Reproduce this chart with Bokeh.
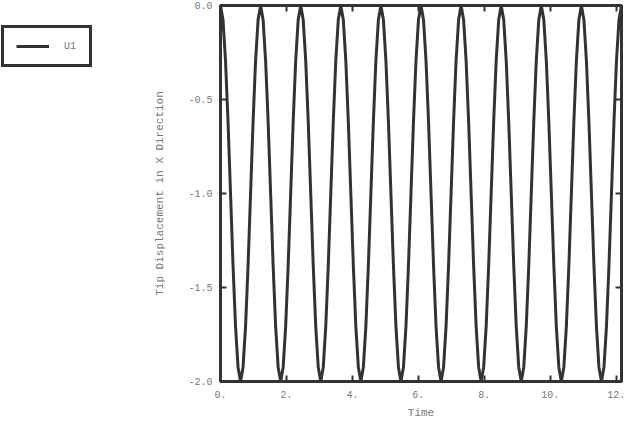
from bokeh.plotting import figure
from bokeh.layouts import row
from bokeh.models import Range1d, FixedTicker, LinearAxis, Legend, LegendItem
from bokeh.embed import file_html
from bokeh.resources import INLINE

time = [
    0.000, 0.076, 0.152, 0.228, 0.304, 0.380, 0.456, 0.532,
    0.608, 0.684, 0.760, 0.836, 0.912, 0.988, 1.064, 1.140,
    1.216, 1.292, 1.368, 1.444, 1.520, 1.596, 1.672, 1.748,
    1.824, 1.900, 1.976, 2.052, 2.128, 2.204, 2.280, 2.356,
    2.432, 2.508, 2.584, 2.660, 2.736, 2.812, 2.888, 2.964,
    3.040, 3.116, 3.192, 3.268, 3.344, 3.420, 3.496, 3.572,
    3.648, 3.724, 3.800, 3.876, 3.952, 4.028, 4.104, 4.180,
    4.256, 4.332, 4.408, 4.484, 4.560, 4.636, 4.712, 4.788,
    4.864, 4.940, 5.016, 5.092, 5.168, 5.244, 5.320, 5.396,
    5.472, 5.548, 5.624, 5.700, 5.776, 5.852, 5.928, 6.004,
    6.080, 6.156, 6.232, 6.308, 6.384, 6.460, 6.536, 6.612,
    6.688, 6.764, 6.840, 6.916, 6.992, 7.068, 7.144, 7.220,
    7.296, 7.372, 7.448, 7.524, 7.600, 7.676, 7.752, 7.828,
    7.904, 7.980, 8.056, 8.132, 8.208, 8.284, 8.360, 8.436,
    8.512, 8.588, 8.664, 8.740, 8.816, 8.892, 8.968, 9.044,
    9.120, 9.196, 9.272, 9.348, 9.424, 9.500, 9.576, 9.652,
    9.728, 9.804, 9.880, 9.956, 10.032, 10.108, 10.184, 10.260,
    10.336, 10.412, 10.488, 10.564, 10.640, 10.716, 10.792, 10.868,
    10.944, 11.020, 11.096, 11.172, 11.248, 11.324, 11.400, 11.476,
    11.552, 11.628, 11.704, 11.780, 11.856, 11.932, 12.008, 12.084,
    12.160,
]

u1 = [
    0.0, -0.076, -0.293, -0.617, -1.0, -1.383, -1.707, -1.924,
    -2.0, -1.924, -1.707, -1.383, -1.0, -0.617, -0.293, -0.076,
    0.0, -0.076, -0.293, -0.617, -1.0, -1.383, -1.707, -1.924,
    -2.0, -1.924, -1.707, -1.383, -1.0, -0.617, -0.293, -0.076,
    0.0, -0.076, -0.293, -0.617, -1.0, -1.383, -1.707, -1.924,
    -2.0, -1.924, -1.707, -1.383, -1.0, -0.617, -0.293, -0.076,
    0.0, -0.076, -0.293, -0.617, -1.0, -1.383, -1.707, -1.924,
    -2.0, -1.924, -1.707, -1.383, -1.0, -0.617, -0.293, -0.076,
    0.0, -0.076, -0.293, -0.617, -1.0, -1.383, -1.707, -1.924,
    -2.0, -1.924, -1.707, -1.383, -1.0, -0.617, -0.293, -0.076,
    0.0, -0.076, -0.293, -0.617, -1.0, -1.383, -1.707, -1.924,
    -2.0, -1.924, -1.707, -1.383, -1.0, -0.617, -0.293, -0.076,
    0.0, -0.076, -0.293, -0.617, -1.0, -1.383, -1.707, -1.924,
    -2.0, -1.924, -1.707, -1.383, -1.0, -0.617, -0.293, -0.076,
    0.0, -0.076, -0.293, -0.617, -1.0, -1.383, -1.707, -1.924,
    -2.0, -1.924, -1.707, -1.383, -1.0, -0.617, -0.293, -0.076,
    0.0, -0.076, -0.293, -0.617, -1.0, -1.383, -1.707, -1.924,
    -2.0, -1.924, -1.707, -1.383, -1.0, -0.617, -0.293, -0.076,
    0.0, -0.076, -0.293, -0.617, -1.0, -1.383, -1.707, -1.924,
    -2.0, -1.924, -1.707, -1.383, -1.0, -0.617, -0.293, -0.076,
    0.0,
]

series_name = "U1"
x_ticks = [0, 2, 4, 6, 8, 10, 12]
x_tick_labels = ["0.", "2.", "4.", "6.", "8.", "10.", "12."]
y_ticks = [0.0, -0.5, -1.0, -1.5, -2.0]
y_tick_labels = ["0.0", "-0.5", "-1.0", "-1.5", "-2.0"]

FONT = "Liberation Mono"
TXT = "#777777"
DARK = "#333333"
W, H = 625, 421
LEG_W = 110

p = figure(width=W - LEG_W, height=H, output_backend="svg", toolbar_location=None,
           x_range=Range1d(0, 12.16), y_range=Range1d(-2.0, 0.0),
           x_axis_label="Time", y_axis_label="Tip Displacement in X Direction",
           min_border_left=220 - LEG_W, min_border_right=4, min_border_top=5,
           min_border_bottom=38)

p.grid.visible = False
p.outline_line_color = DARK
p.outline_line_width = 3
p.background_fill_color = "white"
p.border_fill_color = "white"

r = p.line(time, u1, line_color=DARK, line_width=3)

def style_axis(ax):
    ax.axis_line_color = DARK
    ax.axis_line_width = 3
    ax.major_tick_in = 6
    ax.major_tick_out = 0
    ax.major_tick_line_color = DARK
    ax.major_tick_line_width = 2
    ax.minor_tick_line_color = None
    ax.major_label_text_font = FONT
    ax.major_label_text_font_size = "10px"
    ax.major_label_text_color = TXT
    ax.axis_label_text_font = FONT
    ax.axis_label_text_font_size = "11px"
    ax.axis_label_text_font_style = "normal"
    ax.axis_label_text_color = TXT

xa = p.xaxis[0]
style_axis(xa)
xa.ticker = FixedTicker(ticks=x_ticks)
xa.major_label_overrides = dict(zip(x_ticks, x_tick_labels))
xa.major_label_standoff = 9
xa.axis_label_standoff = 6

ya = p.yaxis[0]
style_axis(ya)
ya.ticker = FixedTicker(ticks=y_ticks)
ya.major_label_overrides = dict(zip(y_ticks, y_tick_labels))
ya.major_label_standoff = 8
ya.axis_label_standoff = 19

top = LinearAxis(ticker=FixedTicker(ticks=x_ticks))
style_axis(top)
top.major_label_overrides = {t: "" for t in x_ticks}
top.major_label_text_font_size = "1px"
top.major_label_standoff = 0
p.add_layout(top, "above")

right = LinearAxis(ticker=FixedTicker(ticks=y_ticks))
style_axis(right)
right.major_label_overrides = {t: "" for t in y_ticks}
right.major_label_text_font_size = "1px"
right.major_label_standoff = 0
p.add_layout(right, "right")

# narrow figure on the left that holds the legend box
lf = figure(width=LEG_W, height=H, output_backend="svg", toolbar_location=None,
            x_range=Range1d(0, 1), y_range=Range1d(5, 6),
            min_border_left=0, min_border_right=0, min_border_top=5, min_border_bottom=38)
lf.axis.visible = False
lf.grid.visible = False
lf.outline_line_color = None
lf.background_fill_color = "white"
lf.border_fill_color = "white"
lr = lf.line(time, u1, line_color=DARK, line_width=3)  # outside lf's view; used for the legend swatch

legend = Legend(items=[LegendItem(label=series_name, renderers=[lr])],
                location=(1, 314),
                border_line_color=DARK, border_line_width=3, border_line_alpha=1.0,
                background_fill_color="white", background_fill_alpha=1.0,
                label_text_font=FONT, label_text_font_size="10px",
                label_text_color=TXT, glyph_width=33, glyph_height=12,
                label_standoff=15, label_width=13, padding=12, margin=0)
lf.add_layout(legend, "center")

layout = row(lf, p, spacing=0)
open("out.html", "w").write(file_html(layout, INLINE))
